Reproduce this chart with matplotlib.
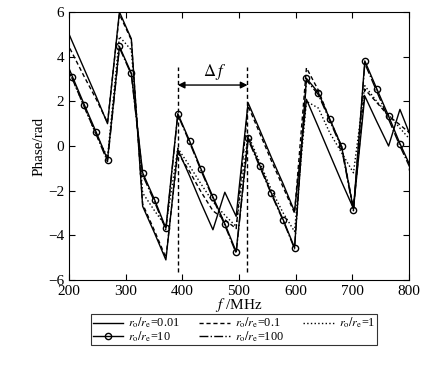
import matplotlib.pyplot as plt
import numpy as np

plt.rcParams['font.family'] = ['Liberation Serif', 'DejaVu Serif']
plt.rcParams['mathtext.fontset'] = 'stix'

# sample frequencies (MHz)
freq = [185, 206, 227, 248, 268, 289, 310, 330, 351, 371, 392, 413, 433, 454, 475,
        495, 516, 537, 557, 578, 598, 619, 640, 660, 681, 702, 722, 743, 764, 784, 805]

# phase (rad) for each ro/re ratio
phase_001 = [5.9, 4.66, 3.44, 2.22, 1.0, 6.0, 4.8, -2.7, -3.9, -5.1, -0.15, -1.35, -2.55, -3.75, -2.07,
             -3.15, 1.94, 0.7, -0.5, -1.7, -2.93, 2.09, 0.85, -0.35, -1.6, -2.8, 2.24, 1.1, 0.0, 1.64, 0.3]
phase_01 = [5.2, 4.15, 3.1, 2.1, 1.05, 5.9, 4.75, -2.6, -3.8, -5.0, -0.3, -1.15, -2.05, -2.9, -3.3,
            -3.7, 1.8, 0.55, -0.65, -1.85, -3.0, 3.5, 2.5, 1.2, 0.0, -2.8, 2.54, 1.95, 1.35, 0.95, 0.5]
phase_1 = [4.3, 3.0, 1.75, 0.5, -0.5, 4.9, 4.3, -2.1, -2.9, -3.6, -0.1, -0.9, -1.7, -2.5, -3.1,
           -3.6, 0.5, -0.75, -1.95, -3.0, -3.83, 2.0, 1.7, 0.6, -0.3, -1.2, 2.7, 2.0, 1.4, 0.8, 0.2]
phase_10 = [4.4, 3.11, 1.85, 0.62, -0.61, 4.46, 3.26, -1.2, -2.4, -3.68, 1.45, 0.22, -1.03, -2.28, -3.48,
            -4.73, 0.37, -0.88, -2.1, -3.3, -4.55, 3.03, 2.39, 1.22, -0.01, -2.85, 3.81, 2.57, 1.34, 0.11, -1.05]
phase_100 = [4.25, 3.0, 1.75, 0.52, -0.7, 4.4, 3.2, -1.3, -2.5, -3.75, 1.4, 0.15, -1.1, -2.35, -3.55,
             -4.8, 0.3, -0.95, -2.15, -3.35, -4.6, 2.95, 2.3, 1.15, -0.1, -2.9, 3.7, 2.45, 1.2, 0.0, -1.15]

delta_f = [392, 515]

fig = plt.figure(figsize=(4.38, 3.73), dpi=100)
ax = fig.add_axes([0.1575, 0.2493, 0.7763, 0.7185])

h1, = ax.plot(freq, phase_001, '-', color='k', lw=1.0)
h2, = ax.plot(freq, phase_01, '--', color='k', lw=1.0, dashes=(3, 2))
h3, = ax.plot(freq, phase_1, ':', color='k', lw=1.0)
h4, = ax.plot(freq, phase_10, '-', color='k', lw=1.0, marker='o', ms=4.5,
              mfc='none', mew=1.0)
h5, = ax.plot(freq, phase_100, '-.', color='k', lw=1.0)

# delta f annotation
for fx in delta_f:
    ax.plot([fx, fx], [-5.65, 3.55], '--', color='k', lw=1.0, dashes=(3, 2))
ax.annotate('', xy=(delta_f[0], 2.73), xytext=(delta_f[1], 2.73),
            arrowprops=dict(arrowstyle='<|-|>', color='k', lw=1.0,
                            mutation_scale=10, shrinkA=0, shrinkB=0))
ax.text(457, 3.3, r'$\Delta\,f$', ha='center', va='center', fontsize=12)

ax.set_xlim(200, 800)
ax.set_ylim(-6, 6)
ax.set_xticks(np.arange(200, 801, 100))
ax.set_yticks(np.arange(-6, 7, 2))
ax.tick_params(direction='in', top=True, right=True, labelsize=11, length=4)
for s in ax.spines.values():
    s.set_linewidth(0.8)

ax.set_xlabel(r'$f$ /MHz', fontsize=11, labelpad=-1)
ax.set_ylabel('Phase/rad', fontsize=11, labelpad=2)

labels = [r'$r_{\rm o}/r_{\rm e}$=0.01', r'$r_{\rm o}/r_{\rm e}$=10',
          r'$r_{\rm o}/r_{\rm e}$=0.1', r'$r_{\rm o}/r_{\rm e}$=100',
          r'$r_{\rm o}/r_{\rm e}$=1']
leg = fig.legend([h1, h4, h2, h5, h3], labels, ncol=3, loc='center',
                 bbox_to_anchor=(0.534, 0.116), fontsize=8.8, frameon=True,
                 fancybox=False, edgecolor='k', handlelength=2.5,
                 handletextpad=0.4, columnspacing=1.6, labelspacing=-0.1,
                 borderpad=0.15, borderaxespad=0)
leg.get_frame().set_linewidth(0.8)

fig.savefig('out.png', dpi=100)
